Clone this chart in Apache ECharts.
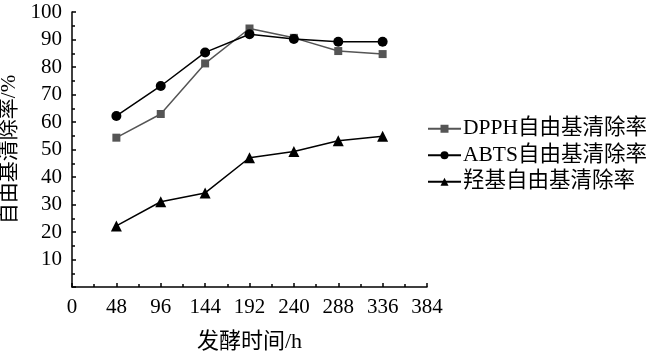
<!DOCTYPE html>
<html>
<head>
<meta charset="utf-8">
<script src="https://cdn.jsdelivr.net/npm/echarts@6/dist/echarts.min.js"></script>
<style>html,body{margin:0;padding:0;background:#fff}#c{width:652px;height:356px}</style>
</head>
<body>
<div id="c"></div>
<script>
var hours = [48, 96, 144, 192, 240, 288, 336];
var dpph = [54.3, 62.9, 81.3, 94.0, 90.6, 85.8, 84.7];
var abts = [62.2, 73.1, 85.3, 91.9, 90.2, 89.2, 89.2];
var hydroxyl = [22.2, 31.0, 34.2, 47.0, 49.3, 53.2, 54.8];
var seriesNames = ['DPPH自由基清除率', 'ABTS自由基清除率', '羟基自由基清除率'];
var xName = '发酵时间/h';
var yName = '自由基清除率/%';

function pairs(v){ return hours.map(function(h,i){ return [h, v[i]]; }); }
var FONT = '"Liberation Serif", "Times New Roman", "Noto Sans CJK SC", serif';
var chart = echarts.init(document.getElementById('c'), null, {renderer:'canvas'});
chart.setOption({
  animation: false,
  backgroundColor: '#fff',
  textStyle: {fontFamily: FONT},
  grid: {left: 72, right: 225, top: 12, bottom: 69, containLabel: false, outerBoundsMode: 'none'},
  legend: {
    orient: 'vertical', left: 422, top: 113,
    itemWidth: 33, itemHeight: 10, itemGap: 5,
    textStyle: {fontFamily: FONT, fontSize: 21.5, color: '#000', padding: [0,0,0,-3]},
    data: seriesNames
  },
  xAxis: {
    type: 'value', min: 0, max: 384, interval: 48,
    name: xName, nameLocation: 'middle', nameGap: 44,
    nameTextStyle: {fontFamily: FONT, fontSize: 22, color: '#000'},
    axisLine: {lineStyle: {color: '#000', width: 1.5}},
    axisTick: {inside: true, length: 4, lineStyle: {color: '#000', width: 1.5}},
    minorTick: {show: true, splitNumber: 2, length: 3, lineStyle: {color: '#000', width: 1.5}},
    axisLabel: {fontFamily: FONT, fontSize: 21, color: '#000', margin: 10},
    splitLine: {show: false}
  },
  yAxis: {
    type: 'value', min: 0, max: 100, interval: 10,
    name: yName, nameLocation: 'middle', nameGap: 47, nameRotate: 90,
    nameTextStyle: {fontFamily: FONT, fontSize: 21, color: '#000'},
    axisLine: {show: true, lineStyle: {color: '#000', width: 1.5}},
    axisTick: {show: true, inside: true, length: 4, lineStyle: {color: '#000', width: 1.5}},
    minorTick: {show: true, splitNumber: 2, length: 3, lineStyle: {color: '#000', width: 1.5}},
    axisLabel: {fontFamily: FONT, fontSize: 21, color: '#000', margin: 10,
      formatter: function(v){ return v === 0 ? '' : v; }},
    splitLine: {show: false}
  },
  series: [
    {name: seriesNames[0], type: 'line', data: pairs(dpph), symbol: 'rect', symbolSize: 8,
     lineStyle: {color: '#555', width: 1.5}, itemStyle: {color: '#555'}},
    {name: seriesNames[1], type: 'line', data: pairs(abts), symbol: 'circle', symbolSize: 10,
     lineStyle: {color: '#000', width: 1.5}, itemStyle: {color: '#000'}},
    {name: seriesNames[2], type: 'line', data: pairs(hydroxyl), symbol: 'triangle', symbolSize: 11,
     lineStyle: {color: '#000', width: 1.5}, itemStyle: {color: '#000'}}
  ]
});
</script>
</body>
</html>
